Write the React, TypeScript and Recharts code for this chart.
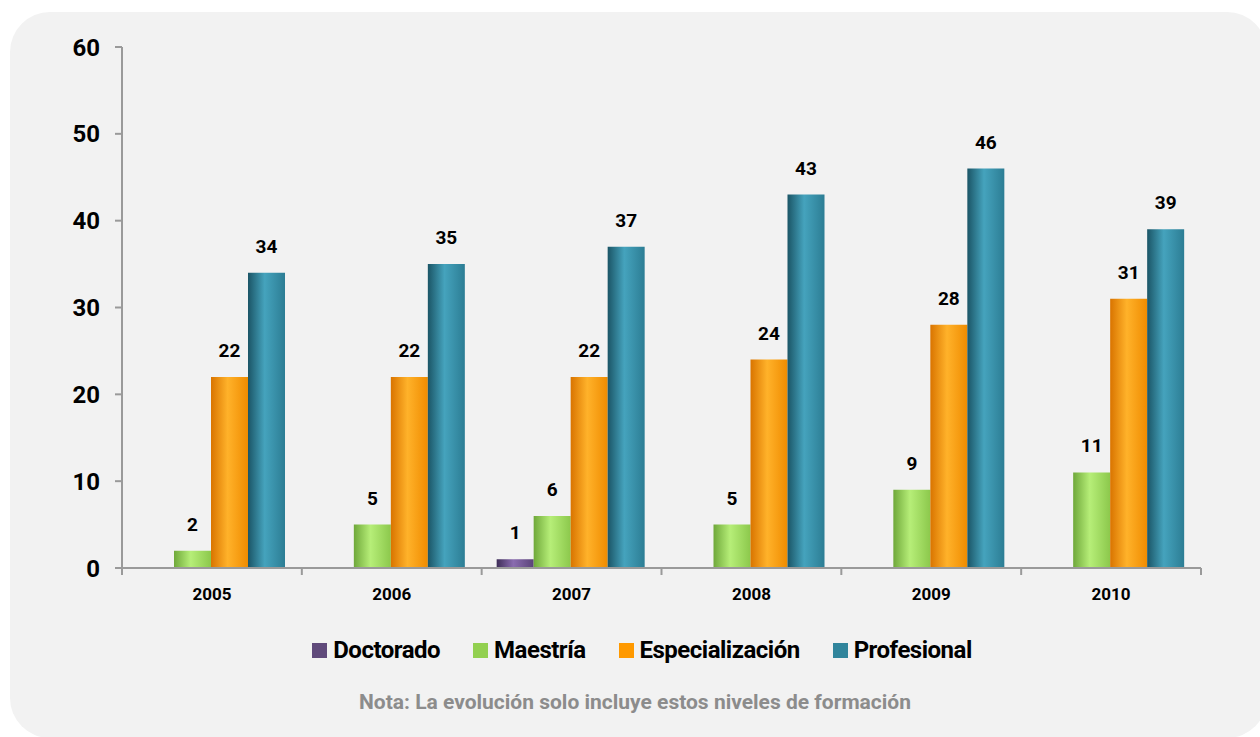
import { Bar, BarChart, LabelList, XAxis, YAxis } from 'recharts';

const years = ['2005', '2006', '2007', '2008', '2009', '2010'];
const doctorado = [null, null, 1, null, null, null];
const maestria = [2, 5, 6, 5, 9, 11];
const especializacion = [22, 22, 22, 24, 28, 31];
const profesional = [34, 35, 37, 43, 46, 39];
const yTicks = [0, 10, 20, 30, 40, 50, 60];

const series = [
  { key: 'doctorado', name: 'Doctorado', color: '#604a7b', stops: ['#3e2d58', '#8a6cb0', '#5a4378'] },
  { key: 'maestria', name: 'Maestría', color: '#92d050', stops: ['#6fa83a', '#b6ee78', '#8cc84c'] },
  { key: 'especializacion', name: 'Especialización', color: '#ff9900', stops: ['#d97400', '#ffb22a', '#f08c00'] },
  { key: 'profesional', name: 'Profesional', color: '#31859c', stops: ['#1b5566', '#45a3bd', '#2c7d94'] },
];

const data = years.map((year, i) => ({
  year,
  doctorado: doctorado[i],
  maestria: maestria[i],
  especializacion: especializacion[i],
  profesional: profesional[i],
}));

const font = "Roboto, 'Liberation Sans', sans-serif";
const TICK = 7;
const TICK_MARGIN = 13;

// year label plus the small ticks at the category boundaries
const YearTick = (props: any) => {
  const { x, y, payload, index, visibleTicksCount } = props;
  const half = payload.offset ?? 0;
  const axisY = y - TICK - TICK_MARGIN;
  const last = index === visibleTicksCount - 1;
  return (
    <g>
      <line x1={x - half} x2={x - half} y1={axisY} y2={axisY + TICK} stroke="#9a9a9a" strokeWidth={2} />
      {last && <line x1={x + half} x2={x + half} y1={axisY} y2={axisY + TICK} stroke="#9a9a9a" strokeWidth={2} />}
      <text x={x} y={y} dy="0.71em" textAnchor="middle" fill="#000" fontSize={17} fontWeight={700} fontFamily={font}>
        {payload.value}
      </text>
    </g>
  );
};

export default function App() {
  return (
    <div style={{ position: 'absolute', left: 0, top: 0, width: 1260, height: 737, background: '#fff', overflow: 'hidden' }}>
      <div style={{ position: 'absolute', left: 10, top: 12, width: 1257, height: 726, borderRadius: 40, background: '#f2f2f2' }} />
      <div style={{ position: 'absolute', left: 0, top: 0 }}>
        <BarChart
          width={1260}
          height={737}
          data={data}
          margin={{ top: 47, right: 59, bottom: 129, left: 62 }}
          barCategoryGap={15}
          barGap={0}
        >
          <defs>
            {series.map((s) => (
              <linearGradient key={s.key} id={`grad-${s.key}`} x1="0" y1="0" x2="1" y2="0">
                <stop offset="0%" stopColor={s.stops[0]} />
                <stop offset="45%" stopColor={s.stops[1]} />
                <stop offset="100%" stopColor={s.stops[2]} />
              </linearGradient>
            ))}
          </defs>
          <XAxis
            dataKey="year"
            tickLine={false}
            tickSize={TICK}
            tickMargin={TICK_MARGIN}
            height={40}
            stroke="#9a9a9a"
            strokeWidth={2}
            interval={0}
            tick={<YearTick />}
          />
          <YAxis
            domain={[0, 60]}
            ticks={yTicks}
            width={60}
            tickSize={7}
            tickMargin={15}
            stroke="#9a9a9a"
            strokeWidth={2}
            tick={{ fill: '#000', fontSize: 24, fontWeight: 700, fontFamily: font }}
          />
          {series.map((s) => (
            <Bar
              key={s.key}
              dataKey={s.key}
              name={s.name}
              fill={`url(#grad-${s.key})`}
              isAnimationActive={false}
            >
              <LabelList
                dataKey={s.key}
                position="top"
                offset={20}
                formatter={(v: any) => (v == null ? '' : v)}
                style={{ fill: '#000', fontSize: 19, fontWeight: 700, fontFamily: font }}
              />
            </Bar>
          ))}
        </BarChart>
      </div>
      <div
        style={{
          position: 'absolute',
          top: 636,
          left: 12,
          width: 1260,
          display: 'flex',
          justifyContent: 'center',
          gap: 33,
          fontFamily: font,
          fontWeight: 700,
          fontSize: 24,
          color: '#000',
          letterSpacing: -0.5,
        }}
      >
        {series.map((s) => (
          <div key={s.key} style={{ display: 'flex', alignItems: 'center' }}>
            <span style={{ display: 'inline-block', width: 15, height: 15, background: s.color, marginRight: 6 }} />
            {s.name}
          </div>
        ))}
      </div>
      <div
        style={{
          position: 'absolute',
          top: 690,
          left: 5,
          width: 1260,
          textAlign: 'center',
          fontFamily: font,
          fontWeight: 700,
          fontSize: 21,
          color: '#8c8c8c',
        }}
      >
        Nota: La evolución solo incluye estos niveles de formación
      </div>
    </div>
  );
}
